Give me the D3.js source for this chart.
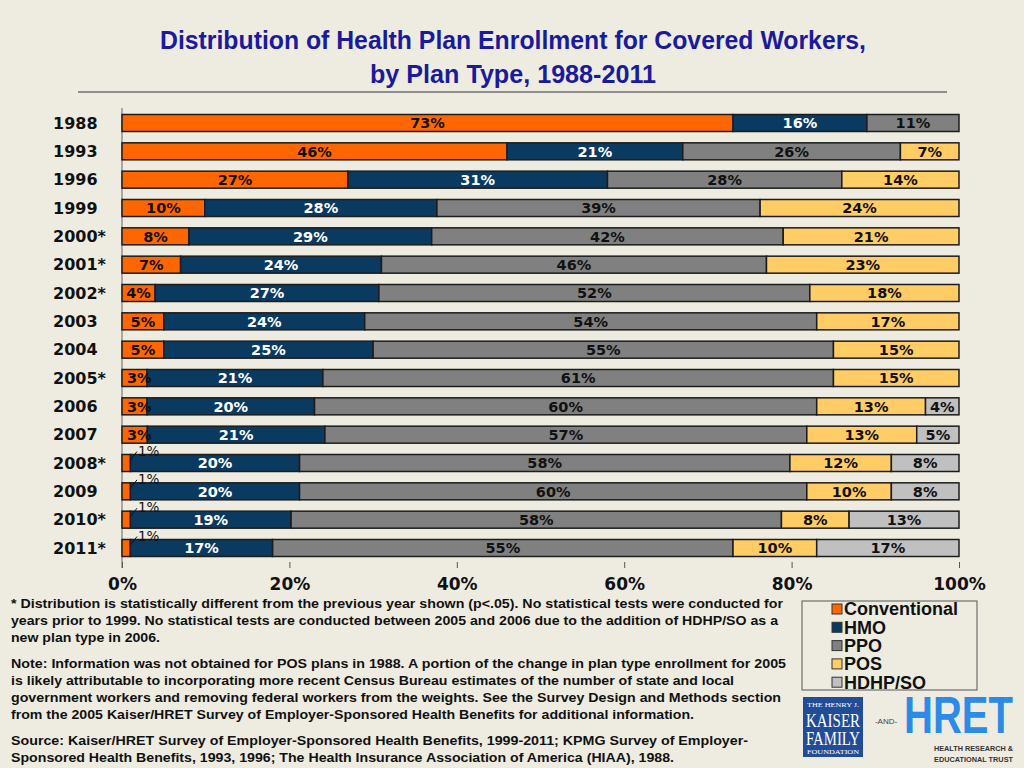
<!DOCTYPE html>
<html>
<head>
<meta charset="utf-8">
<script src="https://cdn.jsdelivr.net/npm/d3@7"></script>
<style>
html,body{margin:0;padding:0;background:#EEECE1;}
svg{display:block;}
</style>
</head>
<body>
<svg id="chart" width="1024" height="768"></svg>
<script>
// ---- data ----
const years = ["1988","1993","1996","1999","2000*","2001*","2002*","2003","2004","2005*","2006","2007","2008*","2009","2010*","2011*"];
const planTypes = ["Conventional","HMO","PPO","POS","HDHP/SO"];
const conventional = [73,46,27,10,8,7,4,5,5,3,3,3,1,1,1,1];
const hmo          = [16,21,31,28,29,24,27,24,25,21,20,21,20,20,19,17];
const ppo          = [11,26,28,39,42,46,52,54,55,61,60,57,58,60,58,55];
const pos          = [0,7,14,24,21,23,18,17,15,15,13,13,12,10,8,10];
const hdhp         = [0,0,0,0,0,0,0,0,0,0,4,5,8,8,13,17];
const tickValues = [0,0.2,0.4,0.6,0.8,1];
const titleLines = ["Distribution of Health Plan Enrollment for Covered Workers,","by Plan Type, 1988-2011"];
const footLines = [
 ["* Distribution is statistically different from the previous year shown (p<.05).  No statistical tests were conducted for", 772],
 ["years prior to 1999. No statistical tests are conducted between 2005 and 2006 due to the addition of HDHP/SO as a", 767],
 ["new plan type in 2006.", 149],
 ["Note: Information was not obtained for POS plans in 1988.  A portion of the change in plan type enrollment for 2005", 775],
 ["is likely attributable to incorporating more recent Census Bureau estimates of the number of state and local", 723],
 ["government workers and removing federal workers from the weights.  See the Survey Design and Methods section", 770],
 ["from the 2005 Kaiser/HRET Survey of Employer-Sponsored Health Benefits for additional information.", 683],
 ["Source:  Kaiser/HRET Survey of Employer-Sponsored Health Benefits, 1999-2011; KPMG Survey of Employer-", 737],
 ["Sponsored Health Benefits, 1993, 1996; The Health Insurance Association of America (HIAA), 1988.", 663]
];
const footY = [608,625,642,668,685,702,719,745,762];

const colors = {"Conventional":"#FF6600","HMO":"#0B3A61","PPO":"#808080","POS":"#FFCC66","HDHP/SO":"#C0C0C0"};
const labelColors = {"Conventional":"#111","HMO":"#fff","PPO":"#111","POS":"#111","HDHP/SO":"#111"};

const rows = years.map((y,i)=>({year:y,"Conventional":conventional[i],"HMO":hmo[i],"PPO":ppo[i],"POS":pos[i],"HDHP/SO":hdhp[i]}));

const svg = d3.select("#chart");
svg.append("rect").attr("width",1024).attr("height",768).attr("fill","#EEECE1");

// title
titleLines.forEach((t,i)=>{
  svg.append("text").attr("x",513).attr("y",[49,83][i]).attr("text-anchor","middle")
    .attr("font-family","'Liberation Sans Narrow','Liberation Sans',Arial,sans-serif")
    .attr("font-weight","bold").attr("font-size",25).attr("fill","#1a1a9e")
    .attr("textLength",[706,286][i]).attr("lengthAdjust","spacingAndGlyphs")
    .text(t);
});
svg.append("line").attr("x1",78).attr("x2",947).attr("y1",92).attr("y2",92)
  .attr("stroke","#6f6f6f").attr("stroke-width",1.5);

// scales
const x = d3.scaleLinear().domain([0,1]).range([122,959]);
const y = d3.scaleBand().domain(years).range([106,565]).paddingInner(0.4).paddingOuter(0.3);

const stack = d3.stack().keys(planTypes).offset(d3.stackOffsetExpand);
const series = stack(rows);

// left axis line
svg.append("line").attr("x1",122).attr("x2",122).attr("y1",108).attr("y2",568)
  .attr("stroke","#7a7a7a").attr("stroke-width",1.2);

// bottom axis
const ax = svg.append("g").attr("transform","translate(0,562)")
  .call(d3.axisBottom(x).tickValues(tickValues).tickFormat(d3.format(".0%")).tickSize(6).tickPadding(10));
ax.select(".domain").remove();
ax.selectAll(".tick line").attr("stroke","#555");
ax.selectAll(".tick text").attr("font-family","'DejaVu Sans',Verdana,sans-serif")
  .attr("font-weight","bold").attr("font-size",17).attr("fill","#111");

// year labels
svg.append("g").selectAll("text").data(years).join("text")
  .attr("x",53).attr("y",d=>y(d)+y.bandwidth()/2).attr("dy","0.36em")
  .attr("font-family","'DejaVu Sans',Verdana,sans-serif").attr("font-weight","bold")
  .attr("font-size",16).attr("fill","#111").text(d=>d);

// bars
const g = svg.append("g");
series.forEach(s=>{
  const key = s.key;
  const segs = s.filter(d=>d.data[key]>0);
  g.append("g").selectAll("rect").data(segs).join("rect")
    .attr("x",d=>x(d[0])).attr("width",d=>x(d[1])-x(d[0]))
    .attr("y",d=>y(d.data.year)).attr("height",y.bandwidth())
    .attr("fill",colors[key]).attr("stroke","#1c1c1c").attr("stroke-width",1.5);
});
// labels
series.forEach(s=>{
  const key = s.key;
  s.forEach(d=>{
    const v = d.data[key];
    if(v<=0) return;
    const x0 = x(d[0]), x1 = x(d[1]);
    const yc = y(d.data.year)+y.bandwidth()/2;
    if(key==="Conventional" && v===1){
      const top = y(d.data.year);
      svg.append("line").attr("x1",x0+8).attr("y1",top+6).attr("x2",x0+15).attr("y2",top-3)
        .attr("stroke","#111").attr("stroke-width",1);
      svg.append("text").attr("x",x0+16).attr("y",top+1)
        .attr("font-family","'DejaVu Sans',Verdana,sans-serif").attr("font-size",13.5)
        .attr("fill","#111").text(v+"%");
      return;
    }
    const t = svg.append("text").attr("y",yc).attr("dy","0.36em")
      .attr("font-family","'DejaVu Sans',Verdana,sans-serif").attr("font-weight","bold")
      .attr("font-size",14.5).attr("fill",labelColors[key]).text(v+"%");
    const w = t.node().getComputedTextLength();
    if(w > (x1-x0)-4){
      t.attr("x",x0+5).attr("text-anchor","start");
    } else {
      t.attr("x",(x0+x1)/2).attr("text-anchor","middle");
    }
  });
});

// footnotes
footLines.forEach((f,i)=>{
  svg.append("text").attr("x",11).attr("y",footY[i])
    .attr("font-family","'Liberation Sans Narrow','Liberation Sans',Arial,sans-serif")
    .attr("font-weight","bold").attr("font-size",13).attr("fill","#111")
    .attr("textLength",f[1]).attr("lengthAdjust","spacingAndGlyphs").text(f[0]);
});

// legend
const lg = svg.append("g");
lg.append("rect").attr("x",802).attr("y",601).attr("width",175).attr("height",89)
  .attr("fill","none").attr("stroke","#555").attr("stroke-width",1);
planTypes.forEach((p,i)=>{
  const cy = 609 + i*18.3;
  lg.append("rect").attr("x",832).attr("y",cy-5).attr("width",10).attr("height",10)
    .attr("fill",colors[p]).attr("stroke","#333").attr("stroke-width",1);
  lg.append("text").attr("x",844).attr("y",cy).attr("dy","0.36em")
    .attr("font-family","'Liberation Sans',Arial,sans-serif").attr("font-weight","bold")
    .attr("font-size",18).attr("fill","#111").text(p);
});

// logos
const kl = svg.append("g");
kl.append("rect").attr("x",803).attr("y",697).attr("width",60).attr("height",60).attr("fill","#214C97");
const serif = "'Liberation Serif','DejaVu Serif',serif";
kl.append("text").attr("x",833).attr("y",707).attr("text-anchor","middle").attr("font-family",serif)
  .attr("font-size",7).attr("fill","#fff").attr("textLength",52).attr("lengthAdjust","spacingAndGlyphs").text("THE HENRY J.");
kl.append("text").attr("x",833).attr("y",727).attr("text-anchor","middle").attr("font-family",serif)
  .attr("font-size",18).attr("fill","#fff").attr("textLength",54).attr("lengthAdjust","spacingAndGlyphs").text("KAISER");
kl.append("text").attr("x",833).attr("y",745).attr("text-anchor","middle").attr("font-family",serif)
  .attr("font-size",18).attr("fill","#fff").attr("textLength",54).attr("lengthAdjust","spacingAndGlyphs").text("FAMILY");
kl.append("text").attr("x",833).attr("y",754).attr("text-anchor","middle").attr("font-family",serif)
  .attr("font-size",6.5).attr("fill","#fff").attr("textLength",52).attr("lengthAdjust","spacingAndGlyphs").text("FOUNDATION");
svg.append("text").attr("x",886).attr("y",724).attr("text-anchor","middle")
  .attr("font-family","'Liberation Sans',Arial,sans-serif").attr("font-size",8).attr("fill","#444").text("-AND-");
svg.append("g").attr("transform","translate(904,733) scale(1,1.28)")
  .append("text").attr("x",0).attr("y",0)
  .attr("font-family","'Liberation Sans',Arial,sans-serif").attr("font-weight","bold")
  .attr("font-size",40).attr("fill","#2B8BE6").attr("textLength",109).attr("lengthAdjust","spacingAndGlyphs").text("HRET");
svg.append("text").attr("x",934).attr("y",751)
  .attr("font-family","'Liberation Sans Narrow','Liberation Sans',Arial,sans-serif").attr("font-weight","bold")
  .attr("font-size",7.5).attr("fill","#333").attr("textLength",79).attr("lengthAdjust","spacingAndGlyphs").text("HEALTH RESEARCH &");
svg.append("text").attr("x",934).attr("y",762)
  .attr("font-family","'Liberation Sans Narrow','Liberation Sans',Arial,sans-serif").attr("font-weight","bold")
  .attr("font-size",7.5).attr("fill","#333").attr("textLength",79).attr("lengthAdjust","spacingAndGlyphs").text("EDUCATIONAL TRUST");
</script>
</body>
</html>
